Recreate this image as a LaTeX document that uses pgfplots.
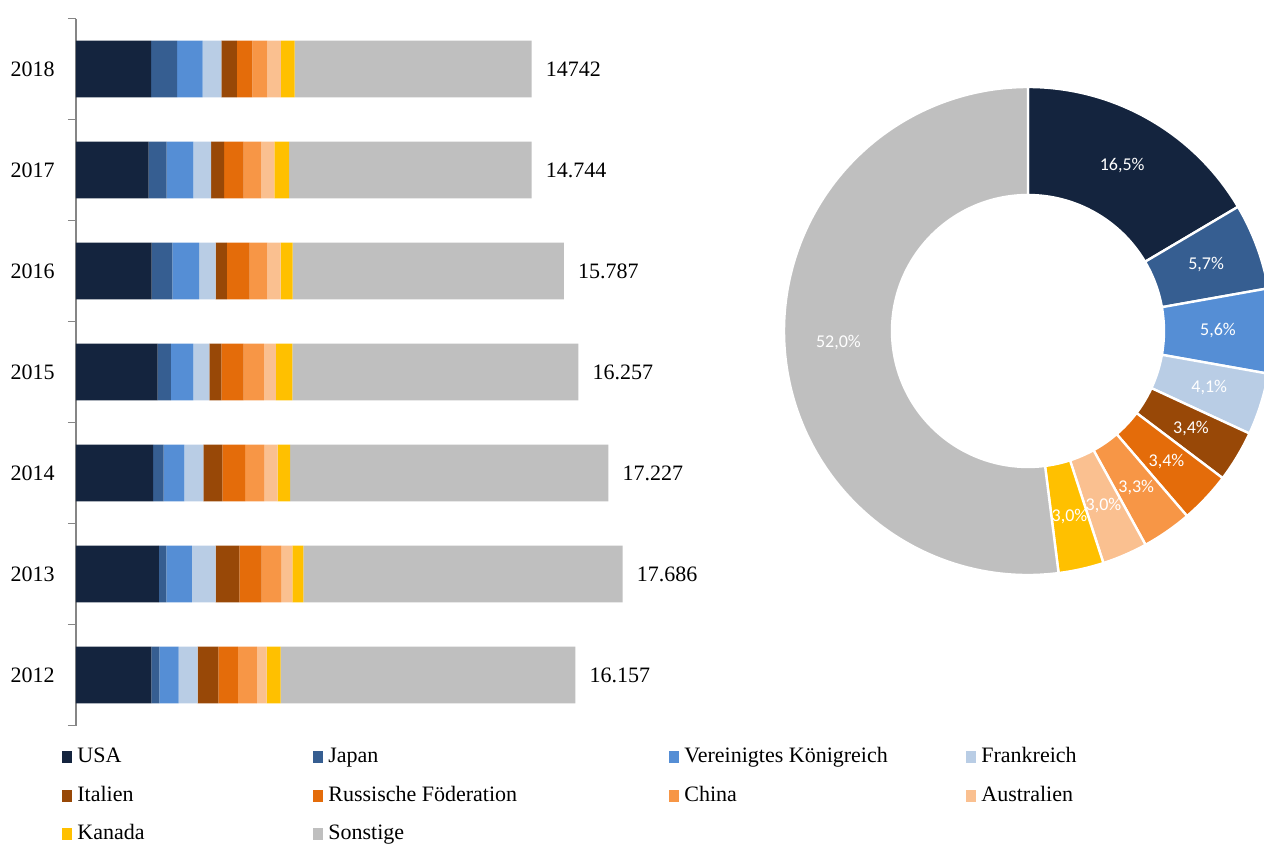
\documentclass[border=0pt]{standalone}
\usepackage{fontspec}
\setmainfont{Liberation Serif}
\newfontfamily\donutfont{Carlito}
\usepackage{pgfplots}
\pgfplotsset{compat=1.18, compat/bar nodes=1.8}

\definecolor{cUSA}{HTML}{14243E}
\definecolor{cJP}{HTML}{365E91}
\definecolor{cUK}{HTML}{558ED5}
\definecolor{cFR}{HTML}{B9CDE5}
\definecolor{cIT}{HTML}{984807}
\definecolor{cRU}{HTML}{E46C0A}
\definecolor{cCN}{HTML}{F79646}
\definecolor{cAU}{HTML}{FAC090}
\definecolor{cCA}{HTML}{FFC000}
\definecolor{cSO}{HTML}{BFBFBF}
\definecolor{axisgray}{HTML}{868686}

\pgfplotsset{
  bstyle/.style={fill=#1, draw=none,
    legend image code/.code={\fill[#1] (0pt,-3pt) rectangle (5pt,3pt);}},
}

% donut segments (shares in %, clockwise from the top)
\gdef\donut{}
\gdef\acc{90}
\foreach \v/\c in {16.5/cUSA,5.7/cJP,5.6/cUK,4.1/cFR,3.4/cIT,3.4/cRU,3.3/cCN,3.0/cAU,3.0/cCA,52.0/cSO}{%
  \pgfmathsetmacro\aS{\acc}%
  \pgfmathsetmacro\aE{\acc-3.6*\v}%
  \pgfmathsetmacro\aM{(\aS+\aE)/2}%
  \xdef\donut{\unexpanded\expandafter{\donut}%
    \noexpand\filldraw[fill=\c, draw=white, line width=1.2pt] (axis cs:0,0) ++(\aS:122pt)
      arc[start angle=\aS, end angle=\aE, radius=122pt] -- ++(\aE:-54pt)
      arc[start angle=\aE, end angle=\aS, radius=68pt] -- cycle;
    \noexpand\path (axis cs:0,0) ++(\aM:95pt) node[text=white, font=\noexpand\donutfont\noexpand\fontsize{9}{10}\noexpand\selectfont]
      {\noexpand\pgfmathprintnumber[fixed, fixed zerofill, precision=1, use comma, assume math mode=true]{\v}\noexpand\%};}%
  \global\let\acc\aE
}

\begin{document}
\begin{tikzpicture}
\begin{axis}[
  at={(38pt,-362.75pt)}, anchor=south west, scale only axis,
  width=309pt, height=353.5pt,
  xbar stacked, bar width=28.3pt,
  xmin=0, xmax=20000, ymin=-0.5, ymax=6.5,
  axis x line=none, axis y line*=left,
  ytick={0,...,6}, yticklabels={2012,2013,2014,2015,2016,2017,2018},
  minor ytick={-0.5,0.5,...,6.5},
  major tick length=0pt, minor tick length=4pt, tick align=outside,
  axis line style={draw=axisgray, line width=0.7pt},
  tick style={draw=axisgray, line width=0.7pt},
  yticklabel style={font=\fontsize{11}{13}\selectfont, inner sep=0pt, anchor=east, xshift=-10.5pt},
  legend columns=4, legend cell align=left,
  legend style={at={(-0.02265,-0.0298)}, anchor=north west, draw=none, inner sep=0pt,
    font=\fontsize{11}{13}\selectfont, column sep=0pt, row sep=8.75pt,
    nodes={inner sep=0pt, text height=8pt, text depth=2.5pt, anchor=west},
    /tikz/every odd column/.append style={column sep=2.5pt}},
]
% years 2012 (0) ... 2018 (6)
\addplot[bstyle=cUSA] coordinates {(2437,0) (2686,1) (2492,2) (2643,3) (2449,4) (2353,5) (2432,6)};
\addlegendentry{\makebox[118pt][l]{USA}}
\addplot[bstyle=cJP] coordinates {(259,0) (236,1) (346,2) (431,3) (669,4) (583,5) (840,6)};
\addlegendentry{\makebox[170.5pt][l]{Japan}}
\addplot[bstyle=cUK] coordinates {(625,0) (832,1) (669,2) (723,3) (863,4) (863,5) (826,6)};
\addlegendentry{\makebox[141pt][l]{Vereinigtes Königreich}}
\addplot[bstyle=cFR] coordinates {(615,0) (767,1) (615,2) (518,3) (539,4) (572,5) (604,6)};
\addlegendentry{Frankreich}
\addplot[bstyle=cIT] coordinates {(669,0) (767,1) (615,2) (388,3) (366,4) (421,5) (501,6)};
\addlegendentry{\makebox[118pt][l]{Italien}}
\addplot[bstyle=cRU] coordinates {(637,0) (722,1) (734,2) (723,3) (734,4) (636,5) (501,6)};
\addlegendentry{\makebox[170.5pt][l]{Russische Föderation}}
\addplot[bstyle=cCN] coordinates {(615,0) (625,1) (615,2) (658,3) (572,4) (572,5) (486,6)};
\addlegendentry{\makebox[141pt][l]{China}}
\addplot[bstyle=cAU] coordinates {(313,0) (366,1) (443,2) (388,3) (431,4) (421,5) (442,6)};
\addlegendentry{Australien}
\addplot[bstyle=cCA] coordinates {(453,0) (356,1) (399,2) (528,3) (388,4) (475,5) (442,6)};
\addlegendentry{\makebox[118pt][l]{Kanada}}
% Sonstige, labelled with the yearly totals
\addplot[bstyle=cSO, nodes near coords, point meta=explicit symbolic,
  nodes near coords style={anchor=west, inner sep=0pt, xshift=7pt, font=\fontsize{11}{13}\selectfont, text=black}]
  coordinates {(9534,0)[16.157] (10329,1)[17.686] (10299,2)[17.227] (9257,3)[16.257] (8776,4)[15.787] (7848,5)[14.744] (7668,6)[14742]};
\addlegendentry{\makebox[170.5pt][l]{Sonstige}}
\end{axis}

\begin{axis}[
  at={(514pt,-165.5pt)}, anchor=center, scale only axis,
  width=244pt, height=244pt, xmin=-1, xmax=1, ymin=-1, ymax=1,
  hide axis, clip=false,
]
\donut
\end{axis}

\pgfresetboundingbox
\path (0pt,0pt) rectangle (632pt,-422pt);
\end{tikzpicture}
\end{document}
